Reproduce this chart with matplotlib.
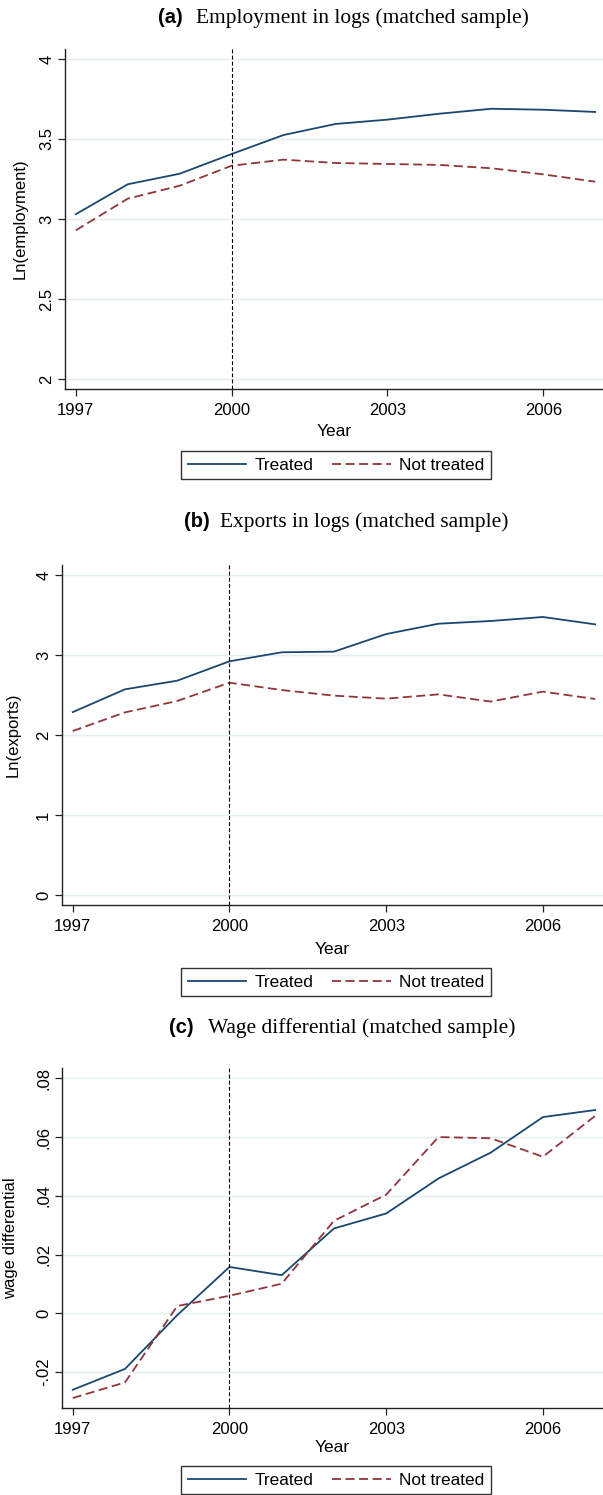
import numpy as np
import matplotlib
matplotlib.use("Agg")
import matplotlib.pyplot as plt
from matplotlib.lines import Line2D

plt.rcParams['font.family'] = ['Liberation Sans', 'DejaVu Sans']

years = [1997, 1998, 1999, 2000, 2001, 2002, 2003, 2004, 2005, 2006, 2007]

# (a) employment, logs
emp_treated     = [3.030, 3.217, 3.283, 3.406, 3.525, 3.594, 3.621, 3.658, 3.689, 3.683, 3.669]
emp_not_treated = [2.929, 3.127, 3.208, 3.333, 3.371, 3.350, 3.344, 3.338, 3.317, 3.279, 3.233]

# (b) exports, logs
exp_treated     = [2.290, 2.575, 2.683, 2.925, 3.038, 3.046, 3.266, 3.395, 3.429, 3.479, 3.387]
exp_not_treated = [2.054, 2.287, 2.429, 2.658, 2.566, 2.496, 2.458, 2.512, 2.422, 2.546, 2.454]

# (c) wage differential
wage_treated     = [-0.0260, -0.0189, -0.0006, 0.0158, 0.0130, 0.0289, 0.0340, 0.0459, 0.0547, 0.0668, 0.0692]
wage_not_treated = [-0.0288, -0.0235, 0.0025, 0.0060, 0.0101, 0.0315, 0.0404, 0.0600, 0.0596, 0.0533, 0.0672]

xticks = [1997, 2000, 2003, 2006]

panels = [
    {"tag": "(a)", "title": "Employment in logs (matched sample)", "ylabel": "Ln(employment)",
     "treated": emp_treated, "control": emp_not_treated,
     "yticks": [2, 2.5, 3, 3.5, 4], "yticklabels": ["2", "2.5", "3", "3.5", "4"],
     "ylim": (1.9375, 4.0625)},
    {"tag": "(b)", "title": "Exports in logs (matched sample)", "ylabel": "Ln(exports)",
     "treated": exp_treated, "control": exp_not_treated,
     "yticks": [0, 1, 2, 3, 4], "yticklabels": ["0", "1", "2", "3", "4"],
     "ylim": (-0.121, 4.129)},
    {"tag": "(c)", "title": "Wage differential (matched sample)", "ylabel": "wage differential",
     "treated": wage_treated, "control": wage_not_treated,
     "yticks": [-0.02, 0, 0.02, 0.04, 0.06, 0.08],
     "yticklabels": ["-.02", "0", ".02", ".04", ".06", ".08"],
     "ylim": (-0.0323, 0.0834)},
]

BLUE = "#1a476f"
RED = "#90353b"
GRID = "#e4edef"

W, H = 603, 1495
fig = plt.figure(figsize=(W / 100, H / 100), dpi=100)
fig.patch.set_facecolor("white")

# pixel layout: axes left, axes top, title baseline, title text start, tag end,
# ylabel x, xlabel y, legend centre y
layout = [
    dict(left=65.4, top=49, tbase=22.7, tx=195.7, tag_x=183.0, ylab_x=20, xlab_y=432, leg_y=465),
    dict(left=62.3, top=565, tbase=526.7, tx=220.0, tag_x=209.6, ylab_x=13, xlab_y=949, leg_y=982),
    dict(left=62.3, top=1068.3, tbase=1033.3, tx=207.7, tag_x=194.0, ylab_x=11, xlab_y=1447, leg_y=1480),
]
AX_H = 340

for p, L in zip(panels, layout):
    ax = fig.add_axes([L["left"] / W, 1 - (L["top"] + AX_H) / H,
                       (W - L["left"]) / W, AX_H / H])

    ax.plot(years, p["treated"], color=BLUE, lw=1.3, solid_joinstyle="miter")
    ax.plot(years, p["control"], color=RED, lw=1.3, linestyle=(0, (5, 2.5)))
    ax.axvline(2000, color="black", lw=0.8, linestyle=(0, (3.5, 2)))

    ax.set_xlim(1996.8, 2007.15)
    ax.set_ylim(*p["ylim"])
    ax.set_xticks(xticks)
    ax.set_xticklabels([str(y) for y in xticks])
    ax.set_yticks(p["yticks"])
    ax.set_yticklabels(p["yticklabels"], rotation=90, va="center")
    ax.grid(True, axis="y", color=GRID, lw=1.0)
    ax.set_axisbelow(True)

    for s in ["top", "right"]:
        ax.spines[s].set_visible(False)
    for s in ["left", "bottom"]:
        ax.spines[s].set_color("#222222")
        ax.spines[s].set_linewidth(1.0)
    ax.tick_params(axis="both", direction="out", length=5, width=0.9,
                   color="#222222", labelsize=12)
    ax.tick_params(axis="x", pad=5)
    ax.tick_params(axis="y", pad=3)

    ax.set_ylabel(p["ylabel"], fontsize=12, va="center")
    ax.yaxis.set_label_coords((L["ylab_x"] - L["left"]) / (W - L["left"]), 0.5)
    fig.text(0.5 * (L["left"] + W) / W, 1 - L["xlab_y"] / H, "Year",
             ha="center", va="center", fontsize=12.5)

    # two-part title: bold sans tag, serif description
    fig.text(L["tag_x"] / W, 1 - L["tbase"] / H, p["tag"], ha="right", va="baseline",
             fontsize=14.5, fontweight="bold")
    fig.text(L["tx"] / W, 1 - L["tbase"] / H, p["title"], ha="left", va="baseline",
             fontsize=15.4, family="Liberation Serif")

    handles = [Line2D([], [], color=BLUE, lw=1.3),
               Line2D([], [], color=RED, lw=1.3, linestyle=(0, (5, 2.5)))]
    leg = fig.legend(handles, ["Treated", "Not treated"], loc="center",
                     bbox_to_anchor=(336 / W, 1 - L["leg_y"] / H),
                     bbox_transform=fig.transFigure, ncol=2, fontsize=12.4,
                     frameon=True, fancybox=False, handlelength=3.4,
                     handletextpad=0.47, columnspacing=1.1, borderpad=0.4,
                     borderaxespad=0)
    leg.get_frame().set_edgecolor("black")
    leg.get_frame().set_linewidth(1.0)

fig.savefig("out.png", dpi=100)
